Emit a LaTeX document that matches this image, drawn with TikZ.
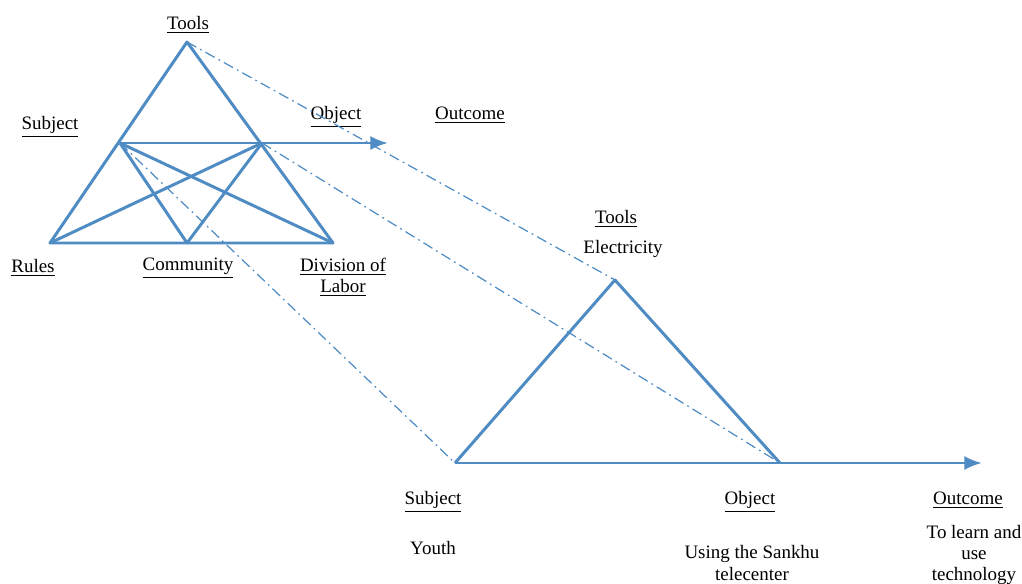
\documentclass[tikz,border=0pt]{standalone}
\usepackage{fontspec}
\setmainfont{Liberation Serif}
\usetikzlibrary{arrows.meta, positioning}

\definecolor{lineblue}{RGB}{79,140,196}

\begin{document}
\begin{tikzpicture}[x=0.02cm, y=-0.02cm]
    \tikzset{
        edge/.style = {draw=lineblue, line width=1.7pt, line join=round},
        line/.style = {draw=lineblue, line width=1.7pt, -{Latex[length=10pt,width=8pt]}},
        link/.style = {draw=lineblue, line width=0.7pt, dash pattern=on 6pt off 2.5pt on 1pt off 2.5pt},
        label/.style = {font=\fontsize{10.8}{12}\selectfont, align=center, inner sep=1pt},
    }
    \useasboundingbox (0,0) rectangle (1022,584);

    % generic activity triangle
    \coordinate (tools1) at (187,42);
    \coordinate (subject1) at (120,143);
    \coordinate (object1) at (262,143);
    \coordinate (rules1) at (50,243);
    \coordinate (community1) at (187,243);
    \coordinate (division1) at (333,243);
    \coordinate (outcome1) at (388,143);

    % telecenter triangle
    \coordinate (tools2) at (615,280);
    \coordinate (subject2) at (455,463);
    \coordinate (object2) at (780,463);
    \coordinate (outcome2) at (982,463);

    \node[label](ltools1) at (188,25){\underline{Tools}};
    \node[label](lsubject1) at (50,127){\underline{Subject}};
    \node[label](lobject1) at (336,117){\underline{Object}};
    \node[label](loutcome1) at (470,115){\underline{Outcome}};
    \node[label](lrules1) at (33,268){\underline{Rules}};
    \node[label](lcommunity1) at (188,268){\underline{Community}};
    \node[label](ldivision1) at (343,277){\underline{Division of}\\\underline{Labor}};

    \node[label](ltools2) at (616,219){\underline{Tools}};
    \node[label](lelectricity) at (623,249){Electricity};
    \node[label](lsubject2) at (433,502){\underline{Subject}};
    \node[label](lobject2) at (750,502){\underline{Object}};
    \node[label](loutcome2) at (968,500){\underline{Outcome}};
    \node[label](lyouth) at (433,548){Youth};
    \node[label](lusing) at (752,563){Using the Sankhu\\telecenter};
    \node[label](llearn) at (974,555){To learn and\\use\\technology};

    \path [edge] (tools1) -- (rules1) -- (division1) -- cycle;
    \path [edge] (subject1) -- (community1) -- (object1);
    \path [edge] (subject1) -- (division1);
    \path [edge] (object1) -- (rules1);
    \path [line] (subject1) -- (outcome1);

    \path [edge] (subject2) -- (tools2) -- (object2);
    \path [line] (subject2) -- (outcome2);

    \path [link] (tools1) -- (tools2);
    \path [link] (object1) -- (object2);
    \path [link] (subject1) -- (subject2);

\end{tikzpicture}
\end{document}
